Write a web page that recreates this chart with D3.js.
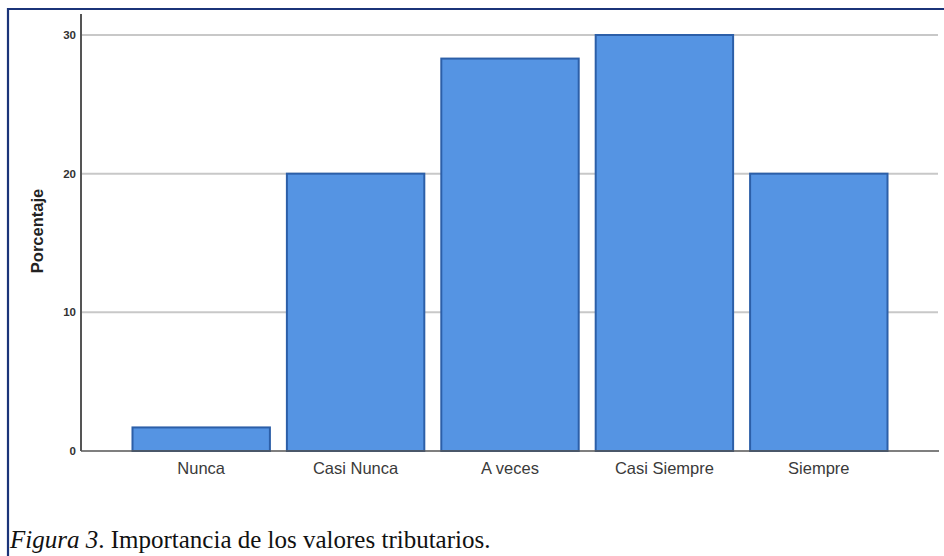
<!DOCTYPE html>
<html lang="es">
<head>
  <meta charset="utf-8">
  <title>Importancia de los valores tributarios</title>
  <script src="https://cdn.jsdelivr.net/npm/d3@7"></script>
  <style>
    body { margin: 0; background: #fff; }
  </style>
</head>
<body>
  <svg width="944" height="556"></svg>
  <script>
    const categories = ["Nunca", "Casi Nunca", "A veces", "Casi Siempre", "Siempre"];
    const percentages = [1.7, 20, 28.3, 30, 20];
    const yTicks = [0, 10, 20, 30];

    const svg = d3.select("svg");

    // frame lines (top and left)
    svg.append("line")
      .attr("x1", 8).attr("x2", 944).attr("y1", 9).attr("y2", 9)
      .attr("stroke", "#1b3479").attr("stroke-width", 2.2);
    svg.append("line")
      .attr("x1", 8).attr("x2", 8).attr("y1", 8).attr("y2", 556)
      .attr("stroke", "#1b3479").attr("stroke-width", 2.2);

    const x = d3.scaleBand()
      .domain(categories)
      .range([124, 896])
      .paddingInner(0.11)
      .paddingOuter(0.055);

    const y = d3.scaleLinear()
      .domain([0, 30])
      .range([451, 35]);

    // gridlines
    svg.append("g")
      .selectAll("line")
      .data(yTicks.filter(d => d > 0))
      .enter()
      .append("line")
      .attr("x1", 82)
      .attr("x2", 938)
      .attr("y1", d => y(d))
      .attr("y2", d => y(d))
      .attr("stroke", "#c8c8c8")
      .attr("stroke-width", 2);

    // bars
    svg.append("g")
      .selectAll("rect")
      .data(percentages)
      .enter()
      .append("rect")
      .attr("x", (d, i) => x(categories[i]))
      .attr("y", d => y(d))
      .attr("width", x.bandwidth())
      .attr("height", d => y(0) - y(d))
      .attr("fill", "#5594e3")
      .attr("stroke", "#2c5fa8")
      .attr("stroke-width", 2);

    // axes lines
    svg.append("line")
      .attr("x1", 81).attr("x2", 939).attr("y1", y(0)).attr("y2", y(0))
      .attr("stroke", "#555").attr("stroke-width", 1.5);
    svg.append("line")
      .attr("x1", 81).attr("x2", 81).attr("y1", 14).attr("y2", y(0))
      .attr("stroke", "#555").attr("stroke-width", 2);

    // y tick labels
    svg.append("g")
      .selectAll("text")
      .data(yTicks)
      .enter()
      .append("text")
      .attr("x", 76)
      .attr("y", d => y(d) + 4)
      .attr("text-anchor", "end")
      .attr("font-family", "Liberation Sans, Arial, sans-serif")
      .attr("font-size", 11.5)
      .attr("font-weight", "bold")
      .attr("fill", "#333")
      .text(d => d);

    // x labels
    svg.append("g")
      .selectAll("text")
      .data(categories)
      .enter()
      .append("text")
      .attr("x", d => x(d) + x.bandwidth() / 2)
      .attr("y", 474)
      .attr("text-anchor", "middle")
      .attr("font-family", "Liberation Sans, Arial, sans-serif")
      .attr("font-size", 16.5)
      .attr("fill", "#3a3a3a")
      .text(d => d);

    // y axis title
    svg.append("text")
      .attr("transform", "translate(43,231) rotate(-90)")
      .attr("text-anchor", "middle")
      .attr("font-family", "Liberation Sans, Arial, sans-serif")
      .attr("font-size", 16.5)
      .attr("font-weight", "bold")
      .attr("fill", "#222")
      .text("Porcentaje");

    // caption
    const cap = svg.append("text")
      .attr("x", 10)
      .attr("y", 548)
      .attr("font-family", "Liberation Serif, Times New Roman, serif")
      .attr("font-size", 25)
      .attr("fill", "#111");
    cap.append("tspan").attr("font-style", "italic").text("Figura 3");
    cap.append("tspan").text(". Importancia de los valores tributarios.");
  </script>
</body>
</html>
